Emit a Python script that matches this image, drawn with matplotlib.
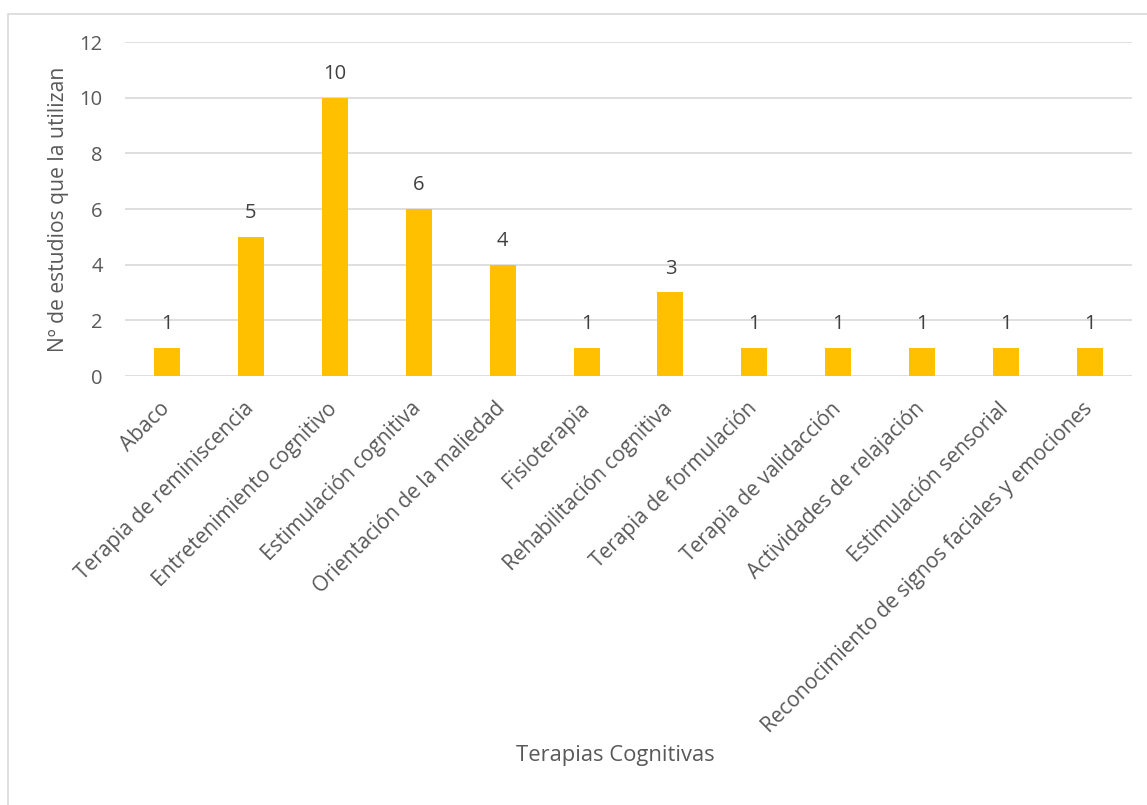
import matplotlib.pyplot as plt
from matplotlib.patches import Rectangle
from matplotlib.transforms import ScaledTranslation

categorias = ['Abaco', 'Terapia de reminiscencia', 'Entretenimiento cognitivo',
              'Estimulación cognitiva', 'Orientación de la maliedad', 'Fisioterapia',
              'Rehabilitación cognitiva', 'Terapia de formulación', 'Terapia de validacción',
              'Actividades de relajación', 'Estimulación sensorial',
              'Reconocimiento de signos faciales y emociones']
estudios = [1, 5, 10, 6, 4, 1, 3, 1, 1, 1, 1, 1]
y_ticks = [0, 2, 4, 6, 8, 10, 12]

plt.rcParams['font.family'] = ['Open Sans', 'DejaVu Sans']
gris = '#595959'
fs = 14.5

fig = plt.figure(figsize=(11.47, 8.05), dpi=100)
# marco del gráfico
fig.patches.append(Rectangle((8 / 1147, -0.1), 1.2, 1.1 - 14 / 805,
                             transform=fig.transFigure, fill=False,
                             edgecolor='#d9d9d9', lw=1.2))

ax = fig.add_axes([125 / 1147, 1 - 376 / 805, (1132 - 125) / 1147, (376 - 42) / 805])
x = range(len(categorias))
bars = ax.bar(x, estudios, width=0.31, color='#FFC000', zorder=3)

for b, v in zip(bars, estudios):
    ax.annotate(str(v), (b.get_x() + b.get_width() / 2, v), xytext=(0, 10),
                textcoords='offset points', ha='center', va='bottom',
                fontsize=fs, color='#404040')

ax.set_xlim(-0.5, len(categorias) - 0.5)
ax.set_ylim(0, 12)
ax.set_yticks(y_ticks)
ax.yaxis.grid(True, color='#d9d9d9', lw=1.2, zorder=0)
for s in ax.spines.values():
    s.set_visible(False)
ax.tick_params(axis='y', length=0, labelsize=fs, labelcolor=gris, pad=16)
ax.set_xticks(list(x))
ax.set_xticklabels(categorias, rotation=45, ha='right', rotation_mode='anchor')
ax.tick_params(axis='x', length=0, labelsize=15, labelcolor=gris, pad=16)
desplazar = ScaledTranslation(-0.08, 0, fig.dpi_scale_trans)
for lab in ax.get_xticklabels():
    lab.set_transform(lab.get_transform() + desplazar)

ax.set_ylabel('Nº de estudios que la utilizan', fontsize=15.2, color=gris)
ax.yaxis.set_label_coords(-0.056, 0.5)
fig.text(615 / 1147, 1 - 755 / 805, 'Terapias Cognitivas', ha='center', va='center',
         fontsize=15.8, color=gris)

fig.savefig('out.png', dpi=100)
